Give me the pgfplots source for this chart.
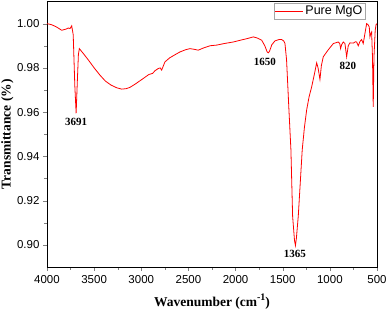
\documentclass[border=0pt]{standalone}
\usepackage{fontspec}
\setmainfont{Liberation Serif}
\newfontfamily\arial{Liberation Sans}
\usepackage{pgfplots}
\pgfplotsset{compat=1.18}
\begin{document}
\begin{tikzpicture}
\begin{axis}[
  scale only axis, width=330pt, height=265.5pt,
  x dir=reverse, xmin=500, xmax=4000, ymin=0.89, ymax=1.01,
  xtick={500,1000,...,4000}, ytick={0.90,0.92,...,1.001},
  minor tick num=1, tick pos=left, tick align=outside,
  major tick length=4pt, minor tick length=2.5pt,
  ticklabel style={font=\arial\fontsize{11.5}{13}\selectfont},
  xticklabel style={yshift=-1pt},
  /pgf/number format/assume math mode=true,
  /pgf/number format/set thousands separator={},
  yticklabel style={/pgf/number format/fixed, /pgf/number format/fixed zerofill, /pgf/number format/precision=2},
  xlabel={\textbf{Wavenumber (cm\raisebox{0.9ex}{\fontsize{10}{11}\selectfont\textbf{-1}})}},
  ylabel={\textbf{Transmittance (\%)}},
  label style={font=\fontsize{13.5}{15}\selectfont},
  xlabel style={at={(axis description cs:0.5,-0.13)}, anchor=center},
  ylabel style={at={(axis description cs:-0.12,0.5)}, anchor=center},
  legend style={at={(axis description cs:0.964,0.993)}, anchor=north east, draw=gray!70, line width=0.4pt, font=\arial\fontsize{12.5}{13}\selectfont, inner sep=0.5pt},
  legend image code/.code={\draw[#1, line width=0.8pt] (0pt,0pt) -- (28pt,0pt);},
  legend cell align=left,
  axis line style={line width=0.8pt},
]
\addplot[red, line width=0.8pt] coordinates {
(4000,1.000)(3950,0.9995)(3900,0.9985)(3844,0.997)(3800,0.9975)(3774,0.998)(3755,0.9978)(3738,0.999)(3722,0.995)(3705,0.972)(3691,0.9595)(3680,0.972)(3667,0.986)(3657,0.9887)(3640,0.9878)(3615,0.9865)(3560,0.9835)(3500,0.980)(3438,0.9767)(3380,0.9740)(3320,0.9722)(3260,0.9710)(3208,0.9704)(3160,0.9706)(3120,0.9712)(3060,0.9728)(3020,0.9740)(2979,0.9752)(2920,0.9770)(2880,0.9775)(2855,0.9787)(2820,0.9797)(2800,0.9800)(2784,0.9790)(2765,0.9810)(2749,0.9827)(2700,0.9845)(2640,0.9860)(2590,0.9872)(2530,0.9882)(2483,0.9887)(2440,0.9884)(2396,0.9880)(2340,0.9890)(2271,0.9900)(2200,0.9903)(2120,0.9910)(2024,0.9917)(1950,0.9925)(1880,0.9932)(1812,0.9940)(1770,0.9935)(1723,0.9925)(1690,0.9900)(1665,0.9872)(1653,0.9868)(1640,0.9875)(1615,0.9905)(1582,0.9922)(1540,0.9928)(1511,0.9928)(1490,0.9922)(1476,0.9910)(1459,0.9835)(1434,0.9610)(1413,0.9430)(1395,0.9130)(1375,0.9020)(1365,0.8997)(1355,0.9030)(1335,0.9130)(1293,0.9430)(1270,0.9530)(1246,0.9610)(1220,0.9670)(1193,0.9714)(1160,0.9780)(1140,0.9823)(1125,0.9800)(1105,0.9748)(1090,0.9810)(1070,0.9850)(1020,0.9880)(963,0.9910)(911,0.9917)(895,0.9910)(886,0.9887)(875,0.9905)(858,0.9917)(840,0.9910)(822,0.9850)(805,0.9900)(787,0.9913)(750,0.9912)(730,0.9918)(716,0.9917)(699,0.9900)(680,0.9920)(663,0.9928)(646,0.9910)(630,0.9950)(610,1.0000)(595,0.9995)(582,0.9985)(575,0.9940)(565,0.9955)(557,0.9962)(548,0.9850)(540,0.9624)(532,0.9850)(519,0.9970)(510,0.9995)(500,1.0000)
};
\addlegendentry{Pure MgO}
\node[font=\bfseries\fontsize{11}{12}\selectfont] at (axis cs:3692,0.9555) {3691};
\node[font=\bfseries\fontsize{11}{12}\selectfont] at (axis cs:1688,0.9826) {1650};
\node[font=\bfseries\fontsize{11}{12}\selectfont] at (axis cs:1370,0.8957) {1365};
\node[font=\bfseries\fontsize{11}{12}\selectfont] at (axis cs:808,0.9808) {820};
\end{axis}
\pgfresetboundingbox
\path[use as bounding box] ([xshift=-47pt,yshift=-49pt]current axis.south west) rectangle ([xshift=10pt,yshift=1.5pt]current axis.north east);
\end{tikzpicture}
\end{document}
